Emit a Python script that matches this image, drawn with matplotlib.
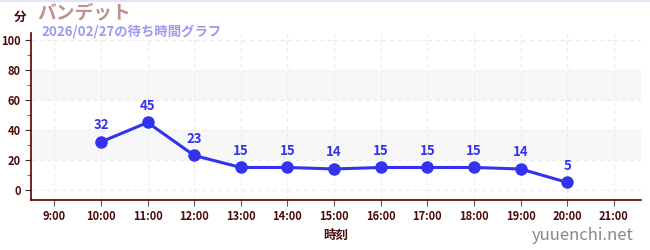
import matplotlib
matplotlib.use("Agg")
import matplotlib.pyplot as plt
from matplotlib.ticker import MultipleLocator

plt.rcParams['font.family'] = ['Noto Sans CJK JP', 'DejaVu Sans']

hours = [10, 11, 12, 13, 14, 15, 16, 17, 18, 19, 20]
waits = [32, 45, 23, 15, 15, 14, 15, 15, 15, 14, 5]
tick_hours = list(range(9, 22))
tick_labels = [f"{h}:00" for h in tick_hours]
title = "バンデット"
subtitle = "2026/02/27の待ち時間グラフ"
y_unit = "分"
x_label = "時刻"
credit = "yuuenchi.net"

fig = plt.figure(figsize=(6.5, 2.5), dpi=100)
W, H = 650, 250
left, right, top, bottom = 31, 641, 33, 200
ax = fig.add_axes([left / W, 1 - bottom / H, (right - left) / W, (bottom - top) / H])

ax.set_xlim(8.5, 21.58)
ax.set_ylim(-6.7, 104.7)

for lo, hi in [(20, 40), (60, 80)]:
    ax.axhspan(lo, hi, color='#f7f7f7', zorder=0, lw=0)

ax.set_xticks(tick_hours)
ax.set_xticklabels(tick_labels)
ax.yaxis.set_major_locator(MultipleLocator(20))
ax.yaxis.set_minor_locator(MultipleLocator(10))
ax.grid(True, which='major', color='#ececec', linestyle=(0, (4, 3)), lw=0.8, zorder=0.5)

dark = '#4a0a0a'
for s in ['top', 'right']:
    ax.spines[s].set_visible(False)
for s in ['left', 'bottom']:
    ax.spines[s].set_color('#5a0000')
    ax.spines[s].set_linewidth(1.2)

ax.tick_params(axis='x', which='major', colors='#555555', labelcolor=dark, length=4, labelsize=8)
ax.tick_params(axis='y', which='major', colors='#333333', labelcolor=dark, length=4, labelsize=8)
ax.tick_params(axis='y', which='minor', colors='#cc2222', length=3)
for lab in ax.get_xticklabels() + ax.get_yticklabels():
    lab.set_fontweight('bold')

blue = '#3333ee'
ax.plot(hours, waits, color=blue, lw=2.2, marker='o', ms=8, zorder=3)
for x, y in zip(hours, waits):
    ax.annotate(str(y), (x, y), xytext=(0, 7), textcoords='offset points',
                ha='center', va='bottom', color=blue, fontsize=9.5, fontweight='bold')

ax.set_xlabel(x_label, color=dark, fontsize=9, fontweight='bold', labelpad=4)

fig.text(14 / W, 1 - 17 / H, y_unit, color=dark, fontsize=9, fontweight='bold', ha='left', va='center')
fig.text(37 / W, 1 - 14 / H, title, color='#c09090', fontsize=13.5, fontweight='bold', ha='left', va='center')
fig.text(41 / W, 1 - 32 / H, subtitle, color='#9a9af0', fontsize=9.6, fontweight='bold', ha='left', va='center')
fig.text(634 / W, 1 - 235 / H, credit, color='#888888', fontsize=12, ha='right', va='center')

fig.add_artist(plt.Line2D([0, 1], [1 - 0.5 / H, 1 - 0.5 / H], color='#e4e4f8', lw=1.5))

fig.savefig('out.png', dpi=100)
